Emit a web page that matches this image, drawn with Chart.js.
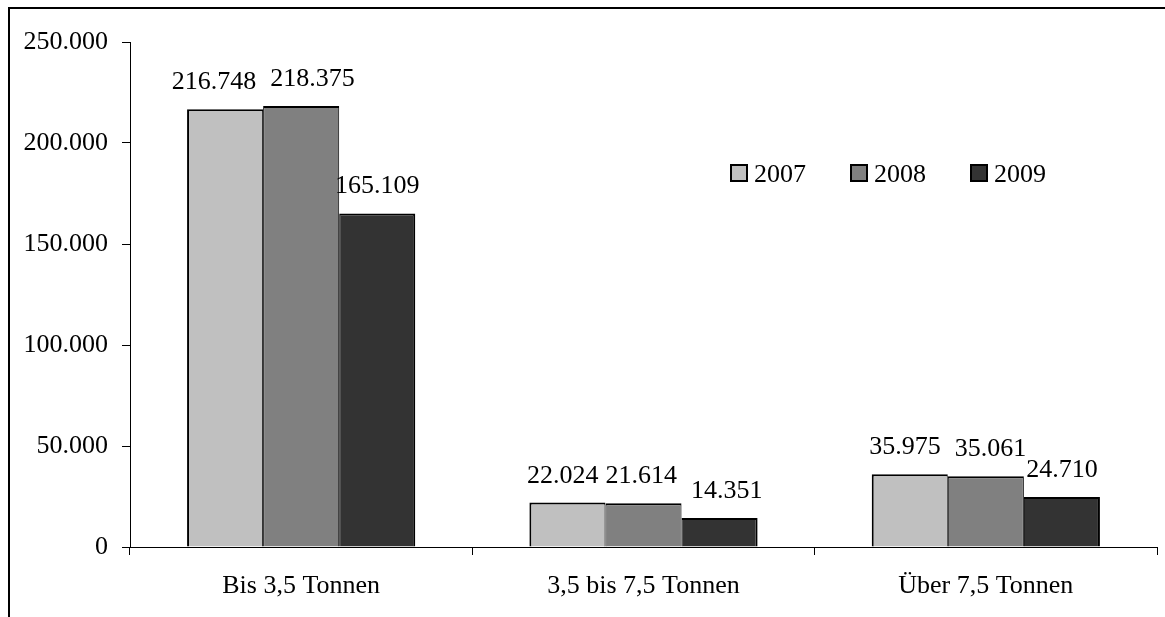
<!DOCTYPE html>
<html lang="de">
<head>
<meta charset="utf-8">
<title>Fahrzeuge nach Gewichtsklasse 2007–2009</title>
<script src="https://cdn.jsdelivr.net/npm/chart.js@4/dist/chart.umd.min.js"></script>
<style>
  html, body { margin: 0; padding: 0; background: #fff; }
  #wrap { position: relative; width: 1165px; height: 617px; }
  canvas { display: block; }
</style>
</head>
<body>
<div id="wrap"><canvas id="chart" width="1165" height="617"></canvas></div>
<script>
// Categories, years and values per year
const categories = ['Bis 3,5 Tonnen', '3,5 bis 7,5 Tonnen', 'Über 7,5 Tonnen'];
const years = ['2007', '2008', '2009'];
const values2007 = [216748, 22024, 35975];
const values2008 = [218375, 21614, 35061];
const values2009 = [165109, 14351, 24710];
const yTicks = [0, 50000, 100000, 150000, 200000, 250000];

const FONT = '"Liberation Serif", "Times New Roman", serif';
const FONT_SIZE = 26;

// German thousands separator: 216748 -> "216.748"
function fmt(v) {
  return String(Math.round(v)).replace(/\B(?=(\d{3})+(?!\d))/g, '.');
}

const fills = ['#c0c0c0', '#808080', '#333333'];
const borders = [
  { top: 2, left: 2, right: 1, bottom: 0 },
  { top: 2, left: 1, right: 1, bottom: 0 },
  { top: 2, left: 1, right: 2, bottom: 0 }
];
const series = [values2007, values2008, values2009];

// Frame line along the top and left edge of the picture
const framePlugin = {
  id: 'frame',
  beforeDraw(chart) {
    const ctx = chart.ctx;
    ctx.save();
    ctx.fillStyle = '#fff';
    ctx.fillRect(0, 0, chart.width, chart.height);
    ctx.fillStyle = '#000';
    ctx.fillRect(8, 7, chart.width - 8, 2);
    ctx.fillRect(8, 7, 2, chart.height - 7);
    ctx.restore();
  }
};

// Value labels above each bar; neighbouring labels in a group that
// would collide are pushed apart horizontally.
const valueLabels = {
  id: 'valueLabels',
  afterDatasetsDraw(chart) {
    const ctx = chart.ctx;
    const minGap = 14, lift = 20, textH = 20;
    ctx.save();
    ctx.font = FONT_SIZE + 'px ' + FONT;
    ctx.fillStyle = '#000';
    ctx.textAlign = 'center';
    ctx.textBaseline = 'alphabetic';
    const n = chart.data.labels.length;
    for (let j = 0; j < n; j++) {
      const items = chart.data.datasets.map((ds, i) => {
        const bar = chart.getDatasetMeta(i).data[j];
        const text = fmt(ds.data[j]);
        return { text, x: bar.x, y: bar.y - lift, w: ctx.measureText(text).width };
      });
      for (let k = 1; k < items.length; k++) {
        const a = items[k - 1], b = items[k];
        if (Math.abs(a.y - b.y) >= textH) continue;
        const need = (a.x + a.w / 2 + minGap) - (b.x - b.w / 2);
        if (need > 0) { a.x -= need / 2; b.x += need / 2; }
      }
      items.forEach(it => ctx.fillText(it.text, it.x, it.y));
    }
    ctx.restore();
  }
};

// Legend inside the plot, to the right
const insideLegend = {
  id: 'insideLegend',
  afterDraw(chart) {
    const ctx = chart.ctx;
    const x0 = 730, yTop = 164, box = 18, step = 120;
    ctx.save();
    ctx.font = FONT_SIZE + 'px ' + FONT;
    ctx.textAlign = 'left';
    ctx.textBaseline = 'alphabetic';
    chart.data.datasets.forEach((ds, i) => {
      const x = x0 + i * step;
      ctx.fillStyle = '#000';
      ctx.fillRect(x, yTop, box, box);
      ctx.fillStyle = ds.backgroundColor;
      ctx.fillRect(x + 2, yTop + 2, box - 4, box - 4);
      ctx.fillStyle = '#000';
      ctx.fillText(ds.label, x + box + 6, yTop + box);
    });
    ctx.restore();
  }
};

new Chart(document.getElementById('chart'), {
  type: 'bar',
  data: {
    labels: categories,
    datasets: years.map((y, i) => ({
      label: y,
      data: series[i],
      backgroundColor: fills[i],
      borderColor: '#000',
      borderWidth: borders[i],
      borderSkipped: 'start',
      categoryPercentage: 3 / 4.5,
      barPercentage: 1.0
    }))
  },
  options: {
    responsive: false,
    devicePixelRatio: 1,
    animation: false,
    layout: { padding: { top: 42, right: 8, left: 0, bottom: 0 } },
    plugins: {
      legend: { display: false },
      tooltip: { enabled: false },
      title: { display: false }
    },
    scales: {
      x: {
        offset: true,
        grid: {
          offset: true,
          drawOnChartArea: false,
          drawTicks: true,
          tickLength: 8,
          color: '#000',
          lineWidth: 1
        },
        border: { display: true, color: '#000', width: 1 },
        ticks: {
          color: '#000',
          font: { family: FONT, size: FONT_SIZE },
          padding: 16,
          maxRotation: 0
        },
        afterFit(scale) { scale.height = 70; }
      },
      y: {
        min: 0,
        max: 250000,
        afterBuildTicks(scale) { scale.ticks = yTicks.map(v => ({ value: v })); },
        grid: {
          drawOnChartArea: false,
          drawTicks: true,
          tickLength: 8,
          color: '#000',
          lineWidth: 1
        },
        border: { display: true, color: '#000', width: 1 },
        ticks: {
          color: '#000',
          font: { family: FONT, size: FONT_SIZE },
          padding: 14,
          callback: v => fmt(v)
        },
        afterFit(scale) { scale.width = 130; }
      }
    }
  },
  plugins: [framePlugin, valueLabels, insideLegend]
});
</script>
</body>
</html>
